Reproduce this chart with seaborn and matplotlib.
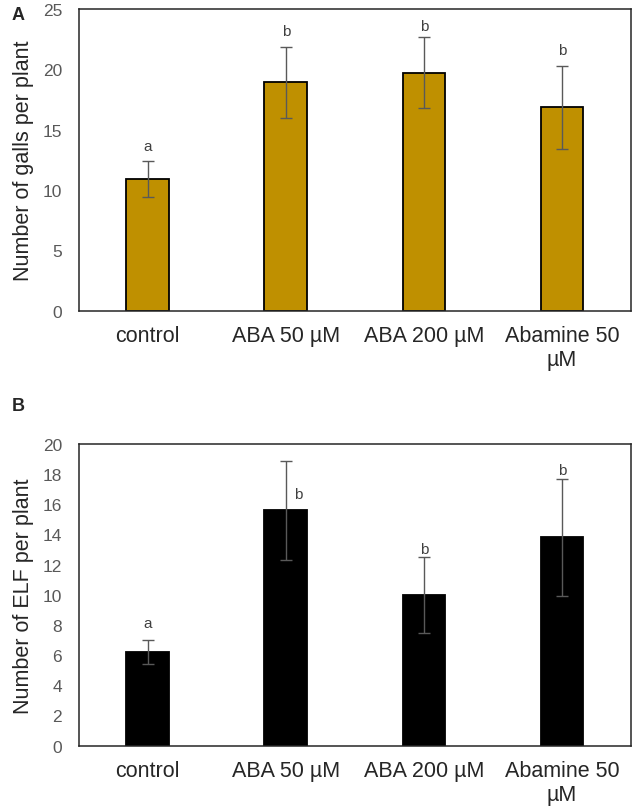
import pandas as pd
import matplotlib
matplotlib.use('Agg')
import matplotlib.pyplot as plt
import seaborn as sns

# data
treatments = ['control', 'ABA 50 µM', 'ABA 200 µM', 'Abamine 50\nµM']
galls_mean = [10.9, 18.9, 19.7, 16.85]
galls_se = [1.5, 2.95, 2.95, 3.45]
galls_letters = ['a', 'b', 'b', 'b']
elf_mean = [6.2, 15.6, 10.0, 13.8]
elf_se = [0.8, 3.3, 2.5, 3.85]
elf_letters = ['a', 'b', 'b', 'b']

sns.set_theme(style='white')
plt.rcParams['font.family'] = ['Liberation Sans', 'DejaVu Sans']

fig = plt.figure(figsize=(6.36, 8.12), dpi=100)
axA = fig.add_axes([0.124, 0.616, 0.868, 0.372])
axB = fig.add_axes([0.124, 0.0805, 0.868, 0.3715])


def panel(ax, means, ses, letters, color, ymax, step, ylabel, letter_dy, letter_dx):
    df = pd.DataFrame({'treatment': treatments, 'value': means})
    sns.barplot(data=df, x='treatment', y='value', color=color, width=0.31,
                edgecolor='black', linewidth=1.3, saturation=1, errorbar=None, ax=ax)
    ax.errorbar(range(len(means)), means, yerr=ses, fmt='none', ecolor='#595959',
                elinewidth=1, capsize=4, capthick=1)
    for i, (m, s, l) in enumerate(zip(means, ses, letters)):
        ax.text(i + letter_dx[i], m + s + letter_dy[i], l, ha='center', va='center',
                fontsize=11, color='#404040')
    ax.set_ylim(0, ymax)
    ax.set_xlim(-0.5, 3.5)
    ax.set_yticks(range(0, ymax + 1, step))
    ax.tick_params(axis='y', labelsize=12.5, labelcolor='#595959', length=0, pad=12)
    ax.tick_params(axis='x', labelsize=15.5, labelcolor='#262626', length=0, pad=10)
    ax.set_xlabel('')
    ax.set_ylabel(ylabel, fontsize=15.5, color='#262626', labelpad=6)
    for sp in ax.spines.values():
        sp.set_visible(True)
        sp.set_color('#262626')
        sp.set_linewidth(1.1)


panel(axA, galls_mean, galls_se, galls_letters, '#BF9000', 25, 5,
      'Number of galls per plant', [1.25, 1.3, 0.9, 1.25], [0, 0, 0, 0])
panel(axB, elf_mean, elf_se, elf_letters, '#000000', 20, 2,
      'Number of ELF per plant', [1.15, -2.2, 0.55, 0.65], [0, 0.09, 0, 0])

fig.text(0.028, 0.981, 'A', fontsize=13, fontweight='bold', va='center', ha='center')
fig.text(0.028, 0.499, 'B', fontsize=13, fontweight='bold', va='center', ha='center')

fig.savefig('out.png', dpi=100)
